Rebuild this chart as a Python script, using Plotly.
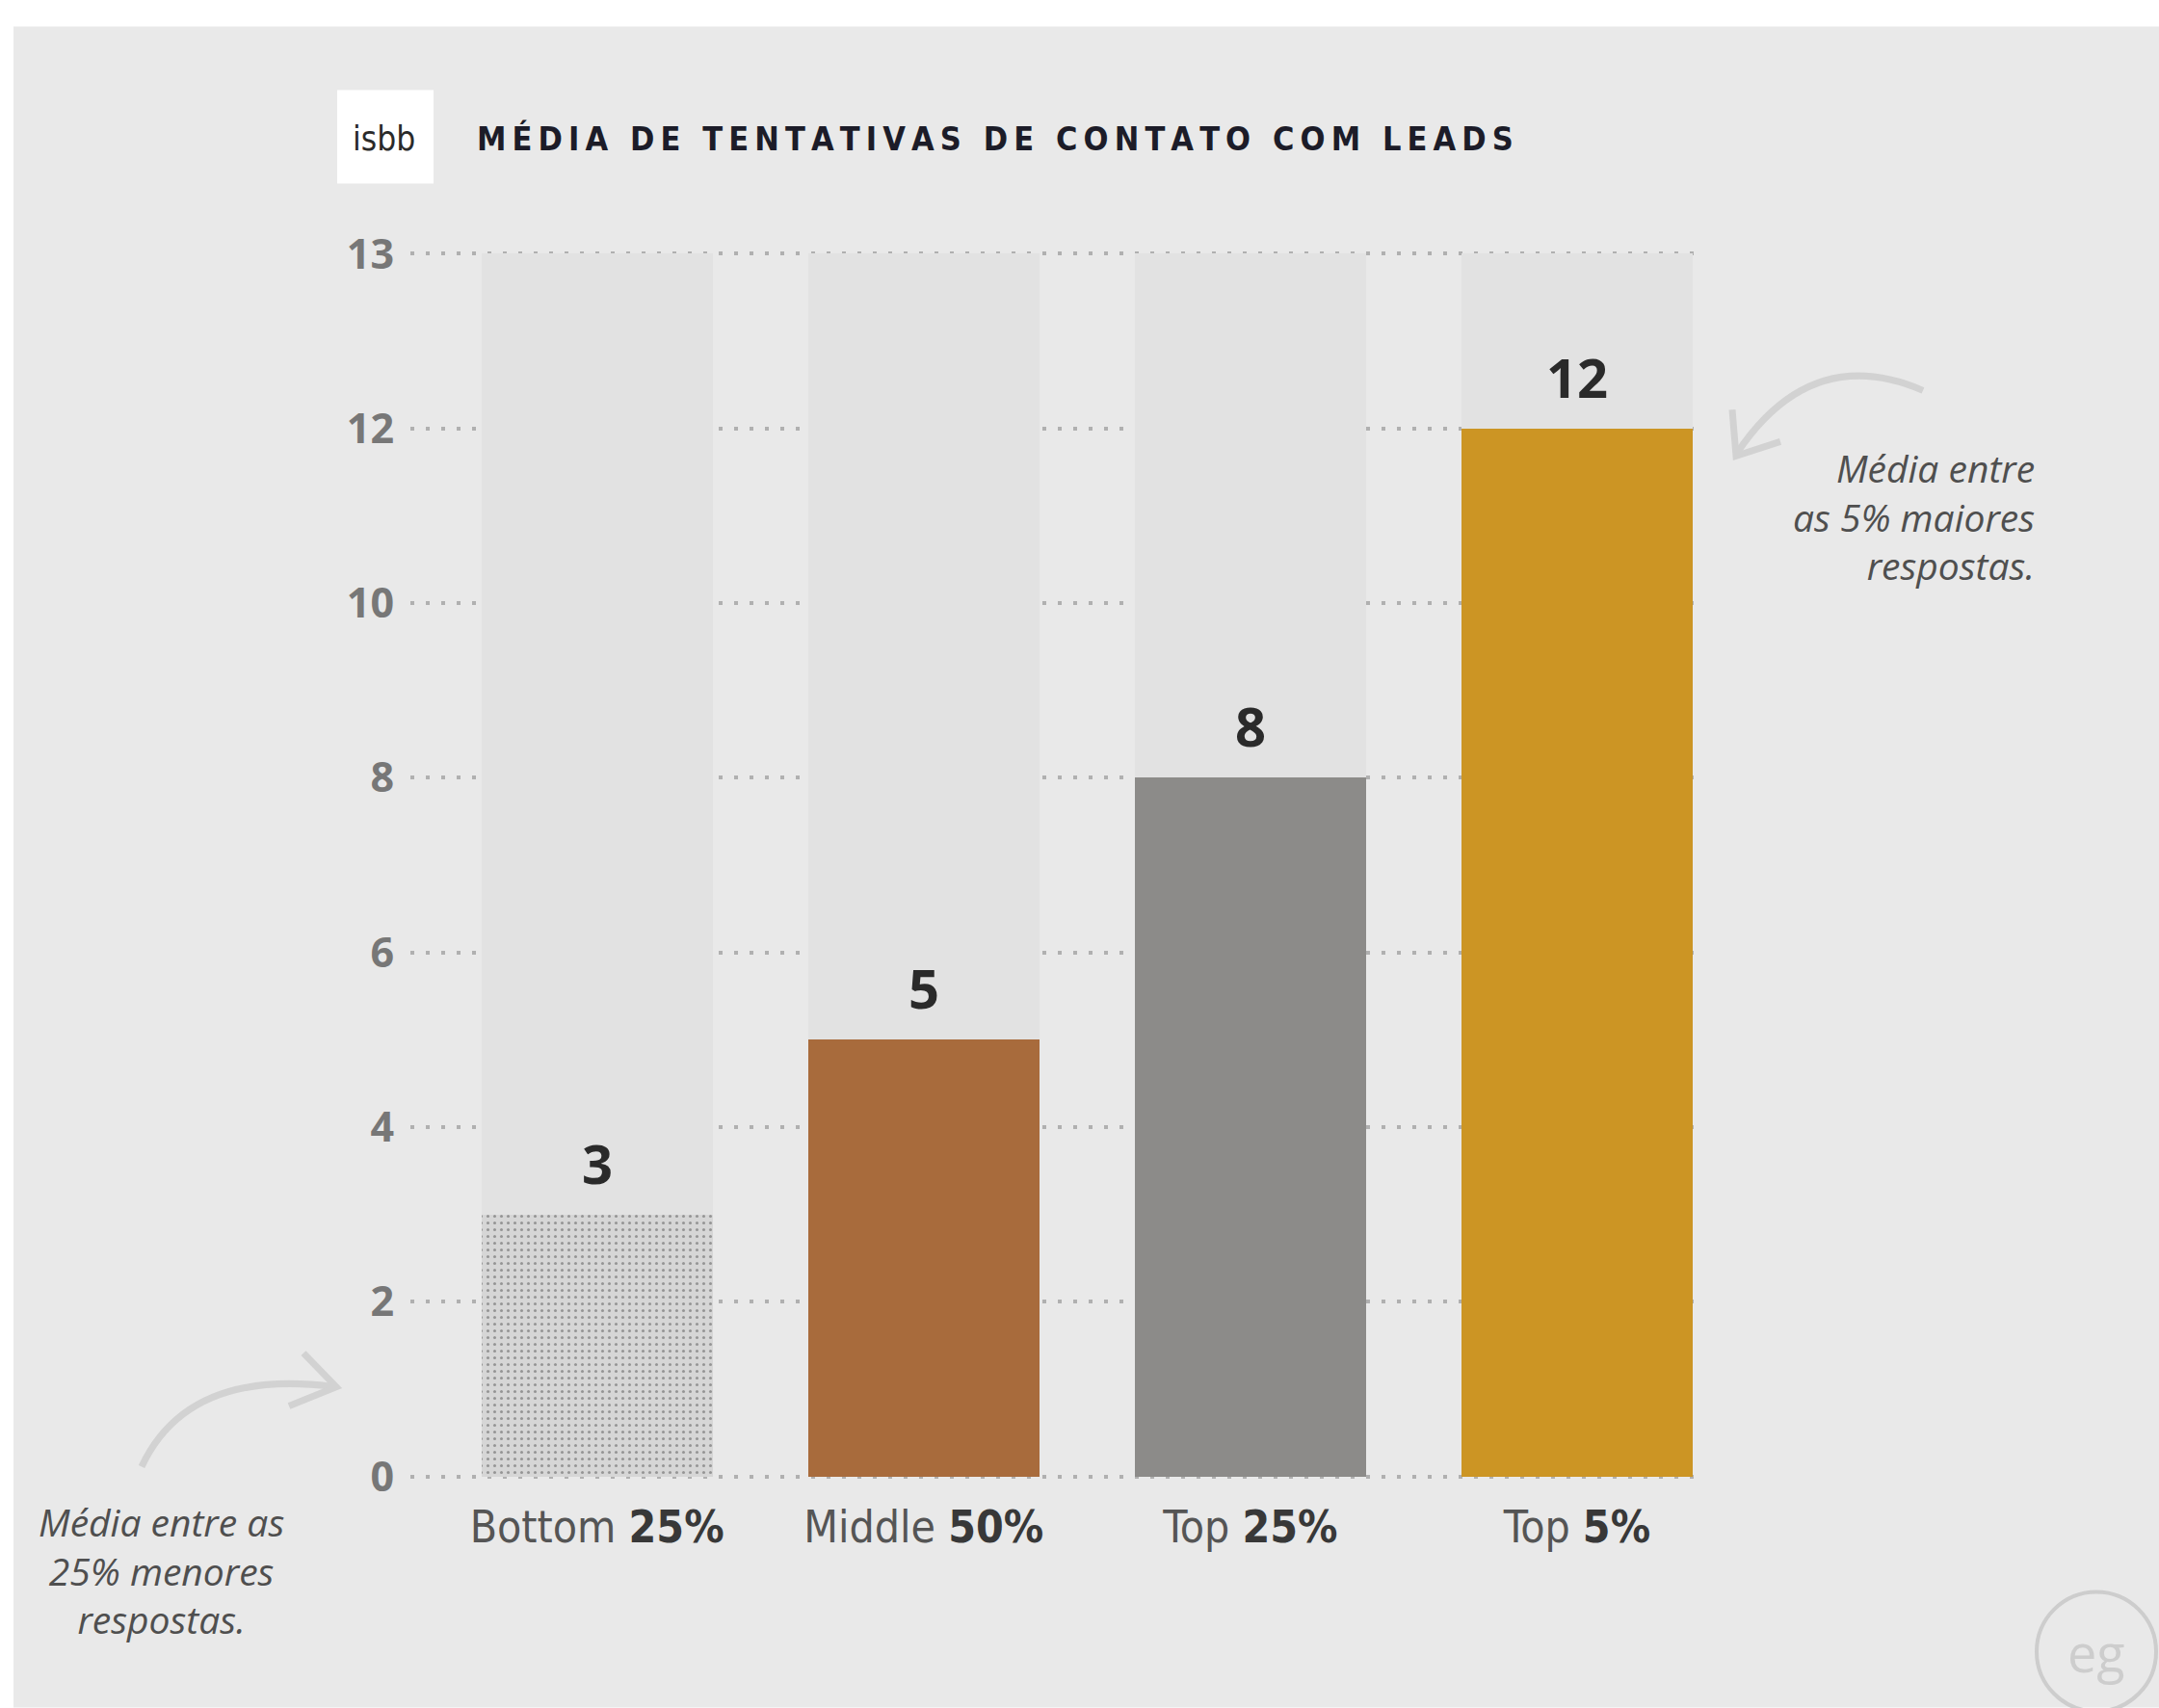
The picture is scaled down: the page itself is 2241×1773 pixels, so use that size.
import plotly.graph_objects as go

# ---------------- data ----------------
categories = ["Bottom 25%", "Middle 50%", "Top 25%", "Top 5%"]
cat_prefix = ["Bottom", "Middle", "Top", "Top"]
cat_pct = ["25%", "50%", "25%", "5%"]
values = [3, 5, 8, 12]
bar_colors = ["#d6d6d6", "#a86b3c", "#8c8b89", "#cc9524"]
bar_patterns = [".", "", "", ""]
tick_values = [0, 2, 4, 6, 8, 10, 12, 14]
tick_labels = ["0", "2", "4", "6", "8", "10", "12", "13"]
track_top = 14  # top of the axis (labelled "13" in the original)

title_text = "MÉDIA DE TENTATIVAS DE CONTATO COM LEADS"
note_left = "Média entre as<br>25% menores<br>respostas."
note_right = "Média entre<br>as 5% maiores<br>respostas."

# ---------------- layout geometry ----------------
W, H = 2241, 1773
PX_TOP, PX_ZERO = 263, 1533          # pixel rows of value 14 and value 0
PAD = 0.06                            # small range padding so edge gridlines show
PXU = (PX_ZERO - PX_TOP) / track_top
L, R = 426, 482
T = PX_TOP - PAD * PXU
B = H - (PX_ZERO + PAD * PXU)
PW, PH = W - L - R, H - T - B


def X(px):
    return (px - L) / PW


def Y(py):
    return 1 - (py - T) / PH


NARROW = "Liberation Sans Narrow, DejaVu Sans Condensed, Open Sans, sans-serif"
SANS = "Open Sans, Roboto, sans-serif"

fig = go.Figure()

# background tracks
fig.add_trace(go.Bar(
    x=categories, y=[track_top] * len(categories),
    marker=dict(color="#e2e2e2", line=dict(width=0)),
    width=0.708, hoverinfo="skip", showlegend=False,
))

# value bars
fig.add_trace(go.Bar(
    x=categories, y=values,
    marker=dict(color=bar_colors, line=dict(width=0),
                pattern=dict(shape=bar_patterns, fgcolor="#c8c8c8",
                             fgopacity=0.45, size=7, solidity=0.15)),
    width=0.708, showlegend=False,
))

ticktext_x = [f"<span style='color:#555555'>{p}</span> <b>{q}</b>"
              for p, q in zip(cat_prefix, cat_pct)]

fig.update_layout(
    width=W, height=H,
    margin=dict(l=L, r=R, t=T, b=B, pad=0),
    paper_bgcolor="#ffffff",
    plot_bgcolor="rgba(0,0,0,0)",
    barmode="overlay",
    bargap=0,
    xaxis=dict(
        type="category",
        range=[-0.571, 3.36],
        tickvals=categories,
        ticktext=ticktext_x,
        tickfont=dict(family=NARROW, size=46, color="#383838"),
        showgrid=False, zeroline=False, showline=False,
        ticks="", ticklabelstandoff=16,
        fixedrange=True,
    ),
    yaxis=dict(
        range=[-PAD, track_top + PAD],
        tickvals=tick_values,
        ticktext=tick_labels,
        tickfont=dict(family=SANS, size=43, color="#777777", weight="bold"),
        showgrid=True, gridcolor="#b0b0b0", gridwidth=4, griddash="4px,12px",
        zeroline=False, showline=False,
        ticks="", ticklabelstandoff=16,
        fixedrange=True,
    ),
)

shapes = []
# grey panel
shapes.append(dict(type="rect", xref="paper", yref="paper",
                   x0=X(14), x1=X(W), y0=Y(27), y1=Y(H),
                   fillcolor="#e9e9e9", line=dict(width=0), layer="below"))
# logo box
shapes.append(dict(type="rect", xref="paper", yref="paper",
                   x0=X(350), x1=X(450), y0=Y(93), y1=Y(190),
                   fillcolor="#ffffff", line=dict(width=0), layer="above"))

ARROW = dict(color="#d2d2d2", width=7)
# left curved arrow
p0, c0, p1 = (147, 1523), (195, 1420), (347, 1440)
shapes.append(dict(type="path", xref="paper", yref="paper",
                   path=f"M{X(p0[0])},{Y(p0[1])} Q{X(c0[0])},{Y(c0[1])} {X(p1[0])},{Y(p1[1])}",
                   line=ARROW))
shapes.append(dict(type="path", xref="paper", yref="paper",
                   path=f"M{X(315)},{Y(1405)} L{X(349)},{Y(1440)} L{X(300)},{Y(1460)}",
                   line=ARROW))
# right curved arrow
q0, d0, q1 = (1996, 405), (1880, 355), (1803, 470)
shapes.append(dict(type="path", xref="paper", yref="paper",
                   path=f"M{X(q0[0])},{Y(q0[1])} Q{X(d0[0])},{Y(d0[1])} {X(q1[0])},{Y(q1[1])}",
                   line=ARROW))
shapes.append(dict(type="path", xref="paper", yref="paper",
                   path=f"M{X(1798)},{Y(425)} L{X(1802)},{Y(473)} L{X(1848)},{Y(458)}",
                   line=ARROW))
# watermark circle
shapes.append(dict(type="circle", xref="paper", yref="paper",
                   x0=X(2114), x1=X(2238), y0=Y(1653), y1=Y(1777),
                   line=dict(color="#cdcdcd", width=4), fillcolor="rgba(0,0,0,0)"))
fig.update_layout(shapes=shapes)

annotations = []
# value labels
for c, v in zip(categories, values):
    annotations.append(dict(x=c, y=v, xref="x", yref="y", text=f"<b>{v}</b>",
                            showarrow=False, yanchor="bottom", yshift=14,
                            font=dict(family=SANS, size=56, color="#2a2a2a")))
# title
spaced_title = "\u2009".join(list(title_text))
annotations.append(dict(x=X(493), y=Y(143), xref="paper", yref="paper",
                        text=f"<b>{spaced_title}</b>", showarrow=False,
                        xanchor="left", yanchor="middle",
                        font=dict(family=NARROW, size=34, color="#1c1c28")))
# logo text
annotations.append(dict(x=X(398), y=Y(143), xref="paper", yref="paper",
                        text="isbb", showarrow=False,
                        xanchor="center", yanchor="middle",
                        font=dict(family=NARROW, size=35, color="#2a2a2a")))
# notes
annotations.append(dict(x=X(167), y=Y(1631), xref="paper", yref="paper",
                        text=note_left, showarrow=False, align="center",
                        xanchor="center", yanchor="middle",
                        font=dict(family=SANS, size=39, color="#4f4f4f", style="italic")))
annotations.append(dict(x=X(2114), y=Y(536), xref="paper", yref="paper",
                        text=note_right, showarrow=False, align="right",
                        xanchor="right", yanchor="middle",
                        font=dict(family=SANS, size=39, color="#4f4f4f", style="italic")))
# watermark
annotations.append(dict(x=X(2176), y=Y(1716), xref="paper", yref="paper",
                        text="eg", showarrow=False,
                        xanchor="center", yanchor="middle",
                        font=dict(family=SANS, size=54, color="#cdcdcd")))
fig.update_layout(annotations=annotations)

fig.write_html("out.html", config={"displayModeBar": False},
               post_script="document.body.style.margin='0';document.body.style.overflow='hidden';")
